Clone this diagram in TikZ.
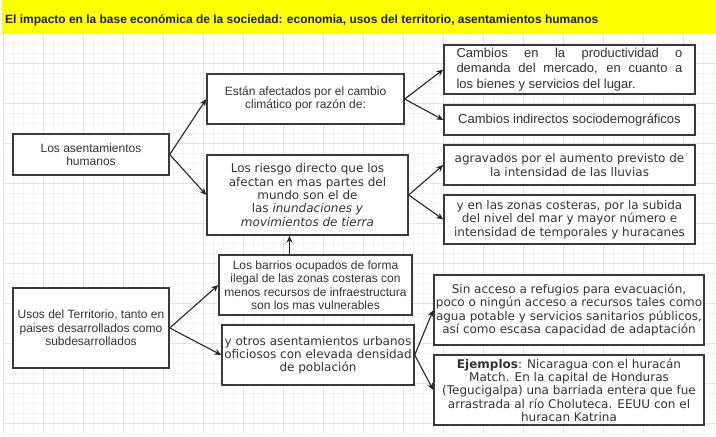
\documentclass[tikz,border=0pt]{standalone}
\usepackage{fontspec}
\usepackage{graphicx}
\setmainfont{Liberation Sans}
\newfontfamily\dv{DejaVu Sans}
\usetikzlibrary{arrows.meta}
\definecolor{txt}{HTML}{333333}
\definecolor{brd}{HTML}{3A3A3A}
\definecolor{gmin}{HTML}{F4F4F4}
\definecolor{gmaj}{HTML}{E4E4E4}
\definecolor{ttl}{HTML}{FFFF00}
\begin{document}
\begin{tikzpicture}[x=1pt,y=-1pt,
 box/.style={draw=brd, line width=1.4pt, fill=white, inner sep=0pt, text=txt, align=center},
 arial/.style={font=\fontsize{12}{13.5}\selectfont},
 arialb/.style={font=\fontsize{13}{15.5}\selectfont},
 dvs/.style={font=\dv\fontsize{12}{13.3}\selectfont},
 arr/.style={draw=black!85, line width=1.1pt, -{Stealth[length=7pt,width=6pt]}}]
\useasboundingbox (0,0) rectangle (716,437);
\fill[white] (0,0) rectangle (716,437);
% grid
\foreach \x in {13,23,...,713} \draw[gmin, line width=0.6pt] (\x,34) -- (\x,433);
\foreach \y in {43,53,...,433} \draw[gmin, line width=0.6pt] (3,\y) -- (716,\y);
\foreach \x in {3,43,...,683} \draw[gmaj, line width=0.6pt] (\x,34) -- (\x,433);
\foreach \y in {63,103,...,423} \draw[gmaj, line width=0.6pt] (3,\y) -- (716,\y);
% title band
\fill[ttl] (2,0) rectangle (716,34);
\node[anchor=west, inner sep=0pt, text=black!88, font=\fontsize{12}{14}\selectfont\bfseries] (title) at (5,20)
 {\resizebox{593pt}{\height}{El impacto en la base económica de la sociedad: economia, usos del territorio, asentamientos humanos}};
% boxes
\node[box, arial, minimum width=156, minimum height=41] (asent) at (91,154.5) {Los asentamientos\\humanos};
\node[box, arial, minimum width=197, minimum height=50] (estan) at (305.5,99) {Están afectados por el cambio\\climático por razón de:};
\node[box, dvs, minimum width=201, minimum height=80] (riesgo) at (307.5,195) {Los riesgo directo que los\\afectan en mas partes del\\mundo son el de\\las \textit{inundaciones y}\\\textit{movimientos de tierra}};
\node[box, arialb, minimum width=251, minimum height=49, align=left] (camb1) at (569.5,69.5)
 {\makebox[226pt][s]{Cambios en la productividad o}\\\makebox[226pt][s]{demanda del mercado, en cuanto a}\\los bienes y servicios del lugar.};
\node[box, arialb, minimum width=251, minimum height=30] (camb2) at (569.5,120) {Cambios indirectos sociodemográficos};
\node[box, dvs, font=\dv\fontsize{12}{14.5}\selectfont, minimum width=251, minimum height=40] (agrav) at (569.5,165) {agravados por el aumento previsto de\\la intensidad de las lluvias};
\node[box, dvs, minimum width=251, minimum height=49] (zonas) at (569.5,219.5) {y en las zonas costeras, por la subida\\del nivel del mar y mayor número e\\intensidad de temporales y huracanes};
\node[box, arial, minimum width=156, minimum height=80] (usos) at (91,328) {Usos del Territorio, tanto en\\paises desarrollados como\\subdesarrollados};
\node[box, arial, minimum width=193, minimum height=60] (barrios) at (315.5,285) {Los barrios ocupados de forma\\ilegal de las zonas costeras con\\menos recursos de infraestructura\\son los mas vulnerables};
\node[box, dvs, minimum width=192, minimum height=60] (otros) at (318,355) {y otros asentamientos urbanos\\oficiosos con elevada densidad\\de población};
\node[box, dvs, minimum width=270, minimum height=70] (sin) at (569,310) {Sin acceso a refugios para evacuación,\\poco o ningún acceso a recursos tales como\\agua potable y servicios sanitarios públicos,\\así como escasa capacidad de adaptación};
\node[box, dvs, minimum width=270, minimum height=70] (ejem) at (569,390) {\textbf{Ejemplos}: Nicaragua con el huracán\\Match. En la capital de Honduras\\(Tegucigalpa) una barriada entera que fue\\arrastrada al río Choluteca. EEUU con el\\huracan Katrina};
% connectors
\draw[arr] (asent.east) -- (estan.west);
\draw[arr] (asent.east) -- (riesgo.west);
\draw[arr] (estan.east) -- (camb1.west);
\draw[arr] (estan.east) -- (camb2.west);
\draw[arr] (riesgo.east) -- (agrav.west);
\draw[arr] (riesgo.east) -- (zonas.west);
\draw[arr] ([xshift=-26pt]barrios.north) -- ([xshift=-26pt]barrios.north |- riesgo.south);
\draw[arr] (usos.east) -- (barrios.west);
\draw[arr] (usos.east) -- (otros.west);
\draw[arr] (otros.east) -- (sin.west);
\draw[arr] (otros.east) -- (ejem.west);
\end{tikzpicture}
\end{document}
